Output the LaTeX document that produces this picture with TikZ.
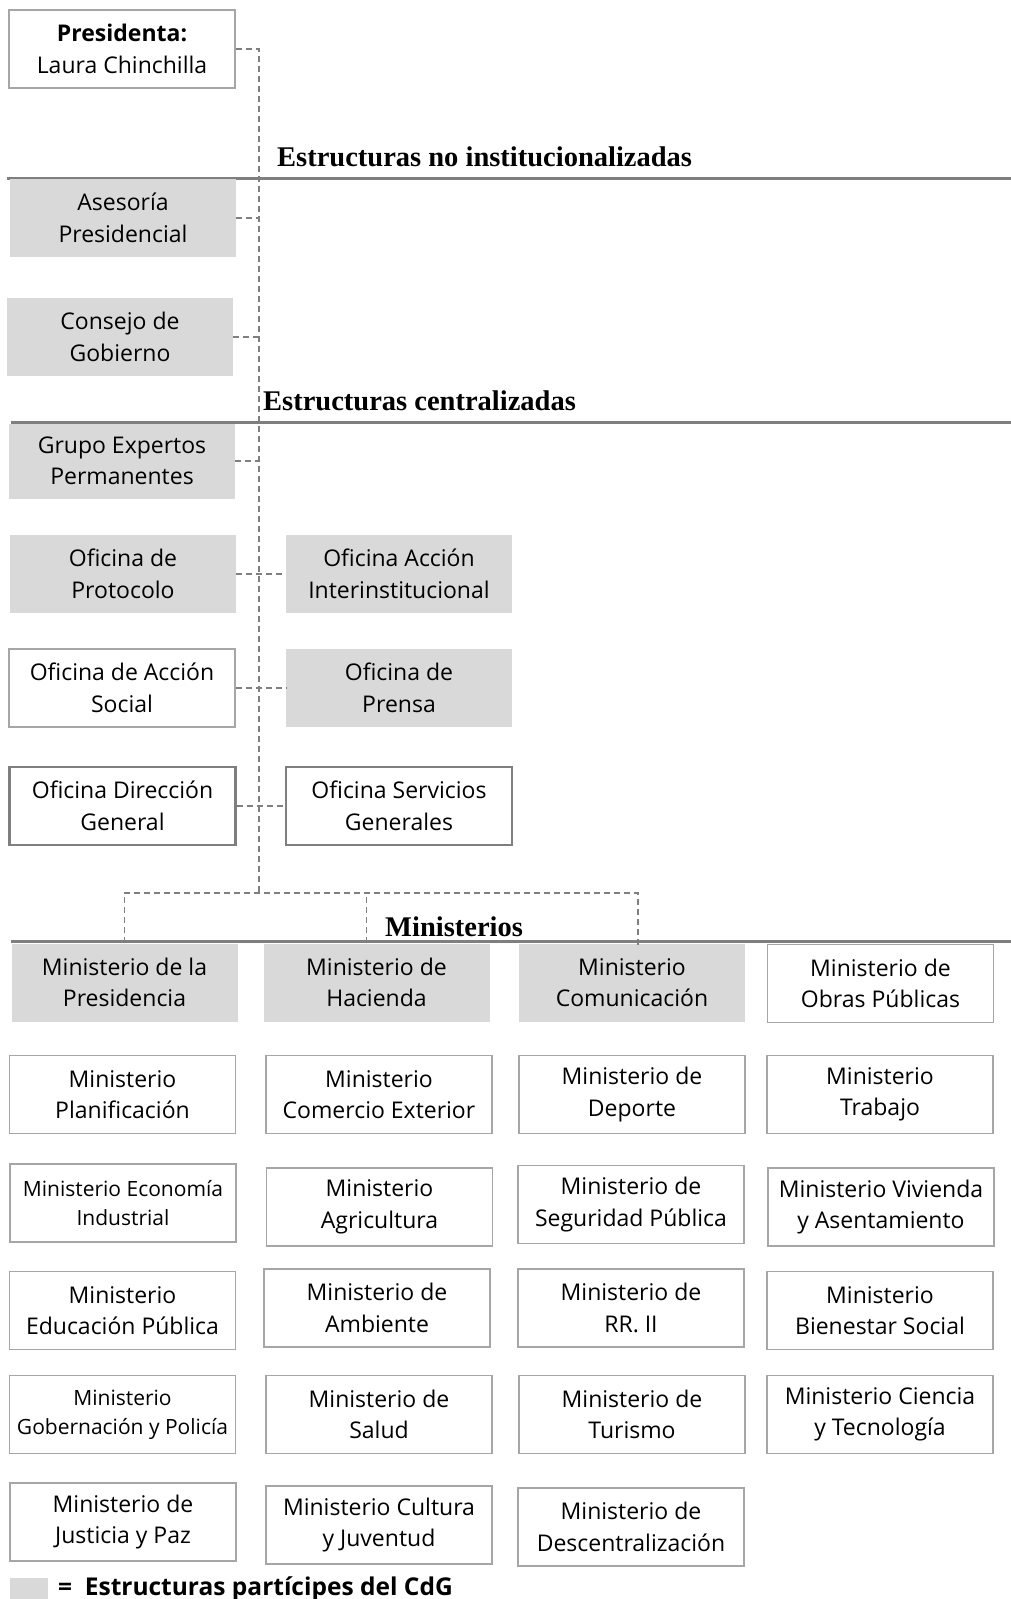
\documentclass[tikz,border=0pt]{standalone}
\usepackage{fontspec}
\setmainfont{Open Sans}
\newfontfamily\headfont{Liberation Serif}
\usepackage{xcolor}
\definecolor{G0}{HTML}{D9D9D9}
\definecolor{G1}{HTML}{7F7F7F}
\definecolor{G2}{HTML}{A6A6A6}

\tikzset{
  box/.style={minimum width=226pt,minimum height=78pt,inner sep=0pt,align=center,
    font=\fontsize{23}{31.5}\selectfont},
  small/.style={font=\fontsize{21}{29}\selectfont},
  cdg/.style={box,fill=G0},
  ext/.style={box,draw=G2,line width=1.2pt},
  dir/.style={box,draw=G1,line width=2.5pt},
  conn/.style={draw=G1,line width=1.4pt,dash pattern=on 6pt off 4pt},
  rule/.style={draw=G1,line width=3pt},
  head/.style={anchor=base west,inner sep=0pt,
    font=\headfont\bfseries\fontsize{28.5}{30}\selectfont},
}

\begin{document}
\begin{tikzpicture}[x=1pt,y=-1pt]
\useasboundingbox (0,0) rectangle (1011,1599);

% section rules and titles
\draw[rule] (7,178) -- (1011,178);
\draw[rule] (11,422) -- (1011,422);
\draw[rule] (11,941) -- (1011,941);
\node[head] (h1) at (277,166) {Estructuras no institucionalizadas};
\node[head] (h2) at (263,410) {Estructuras centralizadas};
\node[head] (h3) at (385,936) {Ministerios};

% presidency
\node[ext] (pres) at (122,49) {\textbf{Presidenta:}\\Laura Chinchilla};
\node[cdg] (ases) at (123,218) {Asesoría\\Presidencial};
\node[cdg] (cons) at (120,337) {Consejo de\\Gobierno};
\node[cdg,minimum height=75pt] (grupo) at (122,461) {Grupo Expertos\\Permanentes};
\node[cdg] (proto) at (123,574) {Oficina de\\Protocolo};
\node[cdg] (inter) at (399,574) {Oficina Acción\\Interinstitucional};
\node[ext] (social) at (122,688) {Oficina de Acción\\Social};
\node[cdg] (prensa) at (399,688) {Oficina de\\Prensa};
\node[dir] (dirgen) at (122.5,806) {Oficina Dirección\\General};
\node[dir] (servgen) at (399,806) {Oficina Servicios\\Generales};

% ministries
\node[cdg] (mpres) at (124.5,982.5) {Ministerio de la\\Presidencia};
\node[cdg] (mhac) at (376.5,982.5) {Ministerio de\\Hacienda};
\node[cdg] (mcom) at (632,982.5) {Ministerio\\Comunicación};
\node[ext] (mobras) at (880.5,983.5) {Ministerio de\\Obras Públicas};

\node[ext] (mplan) at (122.5,1094.5) {Ministerio\\Planificación};
\node[ext] (mcomext) at (379,1094.5) {Ministerio\\Comercio Exterior};
\node[ext] (mdep) at (632,1094.5) {Ministerio de\\Deporte};
\node[ext] (mtrab) at (880,1094.5) {Ministerio\\Trabajo};

\node[ext,small] (mecon) at (123,1203) {Ministerio Economía\\Industrial};
\node[ext] (magri) at (379.5,1207) {Ministerio\\Agricultura};
\node[ext] (mseg) at (631,1204.5) {Ministerio de\\Seguridad Pública};
\node[ext] (mviv) at (881,1207) {Ministerio Vivienda\\y Asentamiento};

\node[ext] (medu) at (122.5,1310.5) {Ministerio\\Educación Pública};
\node[ext] (mamb) at (377,1308) {Ministerio de\\Ambiente};
\node[ext] (mrrii) at (631,1308) {Ministerio de\\RR. II};
\node[ext] (mbien) at (880,1310.5) {Ministerio\\Bienestar Social};

\node[ext,small] (mgob) at (122.5,1414.5) {Ministerio\\Gobernación y Policía};
\node[ext] (msal) at (379,1414.5) {Ministerio de\\Salud};
\node[ext] (mtur) at (632,1414.5) {Ministerio de\\Turismo};
\node[ext] (mcien) at (880,1414.5) {Ministerio Ciencia\\y Tecnología};

\node[ext] (mjus) at (123,1522) {Ministerio de\\Justicia y Paz};
\node[ext] (mcult) at (379,1525) {Ministerio Cultura\\y Juventud};
\node[ext] (mdesc) at (631,1527) {Ministerio de\\Descentralización};

% legend
\node[fill=G0,minimum width=38pt,minimum height=21pt,inner sep=0pt] (legbox) at (29,1588.5) {};
\node[anchor=base west,inner sep=0pt,font=\bfseries\fontsize{24.5}{28}\selectfont] (leg) at (58,1595) {=\ \ Estructuras partícipes del CdG};

% dashed links
\coordinate (bend) at (259,893);
\draw[conn] (pres.east) -| (bend);
\draw[conn] (ases.east) -- (ases.east -| bend);
\draw[conn] (cons.east) -- (cons.east -| bend);
\draw[conn] (grupo.east) -- (grupo.east -| bend);
\draw[conn] (proto.east) -- (inter.west);
\draw[conn] (social.east) -- (prensa.west);
\draw[conn] (dirgen.east) -- (servgen.west);
\draw[conn] (mpres.north) |- ([xshift=6pt]mcom.north |- bend) -- ([xshift=6pt,yshift=-3pt]mcom.north);
\draw[conn] ([xshift=-10pt]mhac.north) -- ([xshift=-10pt]mhac.north |- bend);

\end{tikzpicture}
\end{document}
